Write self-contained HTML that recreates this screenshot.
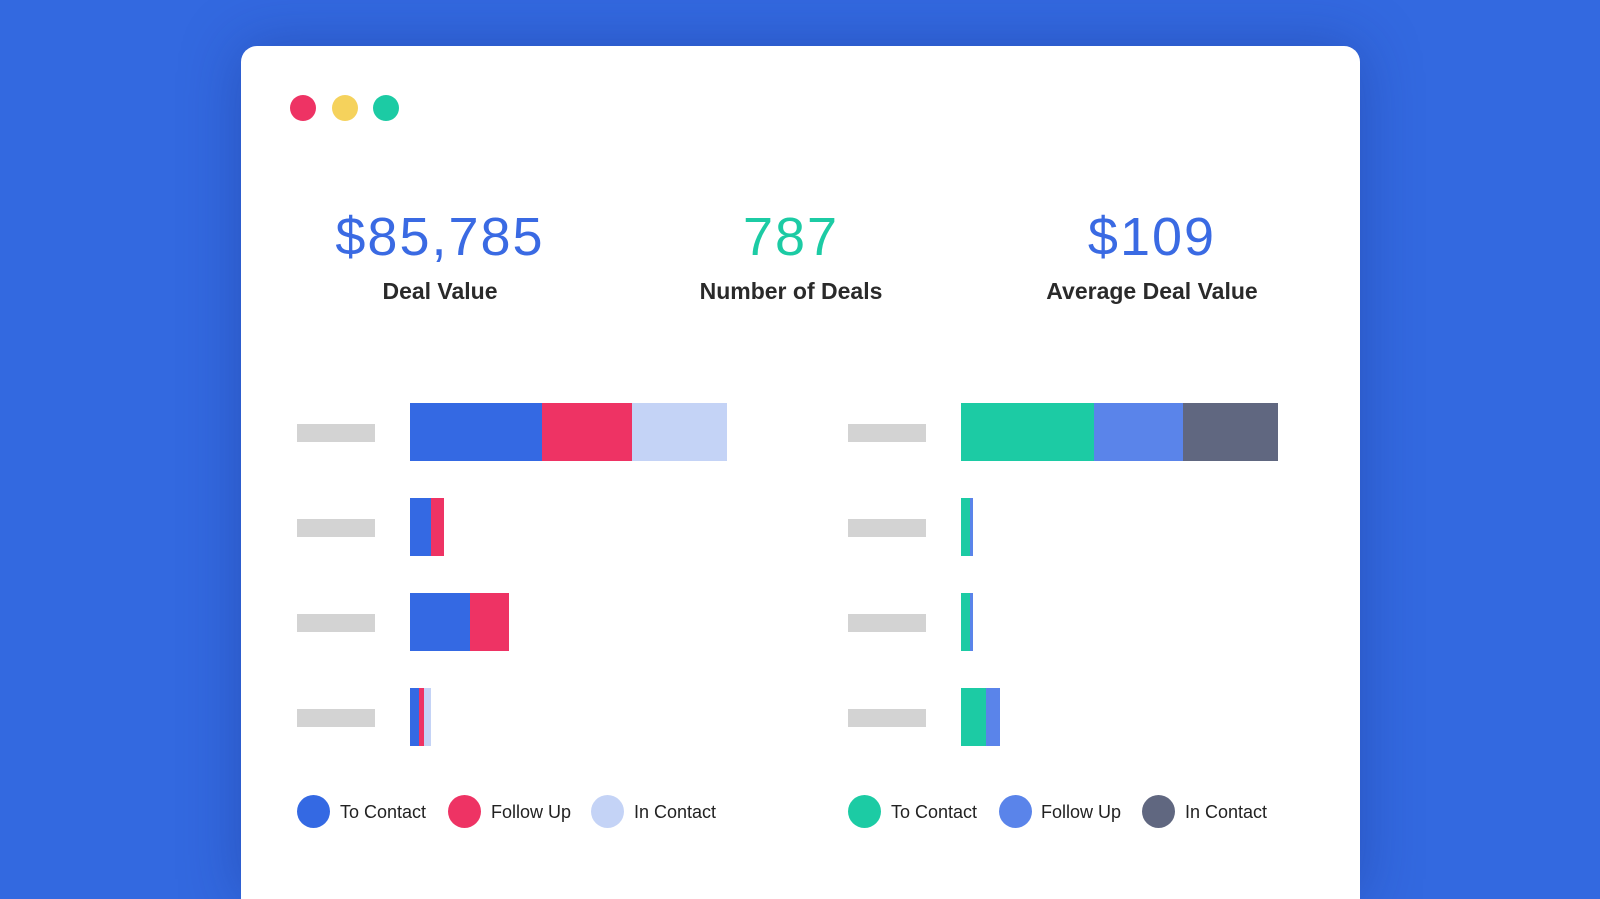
<!DOCTYPE html>
<html style="width:1600px;height:899px;overflow:hidden"><head><meta charset="utf-8"><style>
*{margin:0;padding:0;box-sizing:border-box}
body{width:1600px;height:899px;overflow:hidden;background:#3369e0;font-family:"Liberation Sans",sans-serif;position:relative}
.card{position:absolute;left:241px;top:46px;width:1119px;height:853px;background:#fff;border-radius:16px 16px 0 0;box-shadow:0 0 60px rgba(20,40,120,.35)}
.dot{position:absolute;top:95px;width:26px;height:26px;border-radius:50%}
.num{position:absolute;top:205px;width:400px;text-align:center;font-size:54px;line-height:64px;letter-spacing:2px}
.lab{position:absolute;top:276px;width:400px;text-align:center;font-size:23px;font-weight:bold;color:#2a2a2a;line-height:30px}
.g{position:absolute;width:78px;height:18px;background:#d3d3d3}
.s{position:absolute;height:58px}
.c{position:absolute;width:33px;height:33px;border-radius:50%;top:795px}
.t{position:absolute;top:801px;font-size:18px;color:#222;line-height:22px}
</style></head><body>
<div class="card"></div>
<div class="dot" style="left:290px;background:#ee3364"></div>
<div class="dot" style="left:332px;background:#f5d25c"></div>
<div class="dot" style="left:373px;background:#1ccba4"></div>

<div class="num" style="left:240px;color:#3a6ae3">$85,785</div>
<div class="lab" style="left:240px">Deal Value</div>
<div class="num" style="left:591px;color:#1ccba4">787</div>
<div class="lab" style="left:591px">Number of Deals</div>
<div class="num" style="left:952px;color:#3a6ae3">$109</div>
<div class="lab" style="left:952px">Average Deal Value</div>

<div class="g" style="left:297px;top:424px"></div>
<div class="g" style="left:297px;top:519px"></div>
<div class="g" style="left:297px;top:614px"></div>
<div class="g" style="left:297px;top:709px"></div>
<div class="s" style="left:410px;top:403px;width:132px;background:#3469e3"></div>
<div class="s" style="left:542px;top:403px;width:90px;background:#ee3364"></div>
<div class="s" style="left:632px;top:403px;width:95px;background:#c4d3f6"></div>
<div class="s" style="left:410px;top:498px;width:21px;background:#3469e3"></div>
<div class="s" style="left:431px;top:498px;width:13px;background:#ee3364"></div>
<div class="s" style="left:410px;top:593px;width:60px;background:#3469e3"></div>
<div class="s" style="left:470px;top:593px;width:39px;background:#ee3364"></div>
<div class="s" style="left:410px;top:688px;width:9px;background:#3469e3"></div>
<div class="s" style="left:419px;top:688px;width:5px;background:#ee3364"></div>
<div class="s" style="left:424px;top:688px;width:7px;background:#c4d3f6"></div>

<div class="g" style="left:848px;top:424px"></div>
<div class="g" style="left:848px;top:519px"></div>
<div class="g" style="left:848px;top:614px"></div>
<div class="g" style="left:848px;top:709px"></div>
<div class="s" style="left:961px;top:403px;width:133px;background:#1ccba4"></div>
<div class="s" style="left:1094px;top:403px;width:89px;background:#5a84ea"></div>
<div class="s" style="left:1183px;top:403px;width:95px;background:#606780"></div>
<div class="s" style="left:961px;top:498px;width:9px;background:#1ccba4"></div>
<div class="s" style="left:970px;top:498px;width:3px;background:#5a84ea"></div>
<div class="s" style="left:961px;top:593px;width:9px;background:#1ccba4"></div>
<div class="s" style="left:970px;top:593px;width:3px;background:#5a84ea"></div>
<div class="s" style="left:961px;top:688px;width:25px;background:#1ccba4"></div>
<div class="s" style="left:986px;top:688px;width:14px;background:#5a84ea"></div>

<div class="c" style="left:297px;background:#3469e3"></div><div class="t" style="left:340px">To Contact</div>
<div class="c" style="left:448px;background:#ee3364"></div><div class="t" style="left:491px">Follow Up</div>
<div class="c" style="left:591px;background:#c4d3f6"></div><div class="t" style="left:634px">In Contact</div>
<div class="c" style="left:848px;background:#1ccba4"></div><div class="t" style="left:891px">To Contact</div>
<div class="c" style="left:999px;background:#5a84ea"></div><div class="t" style="left:1041px">Follow Up</div>
<div class="c" style="left:1142px;background:#606780"></div><div class="t" style="left:1185px">In Contact</div>
</body></html>
